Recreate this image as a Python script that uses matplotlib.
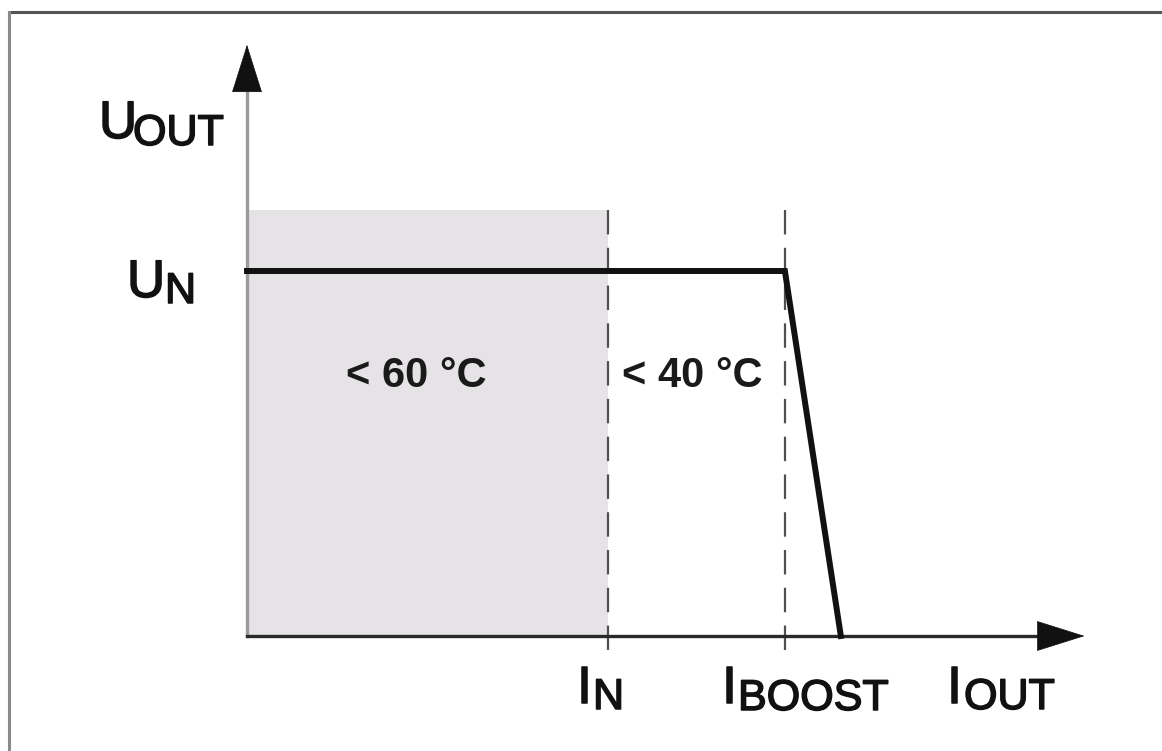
import matplotlib
matplotlib.use("Agg")
import matplotlib.pyplot as plt
import matplotlib.patheffects as pe

# ---- data (normalised units) ----
i_n = 1.0          # nominal current
i_boost = 1.49     # boost current
i_zero = 1.645     # current at which output voltage reaches zero
u_n = 1.0          # nominal voltage
shade_top = 1.167  # top of shaded (< 60 °C) region
curve_x = [0.0, i_boost, i_zero]
curve_y = [u_n, u_n, 0.0]
x_axis_end = 2.32
y_axis_end = 1.62
temp_labels = ["< 60 °C", "< 40 °C"]
axis_labels = [("U", "OUT"), ("U", "N"), ("I", "N"), ("I", "BOOST"), ("I", "OUT")]

W, H = 1162, 751
fig = plt.figure(figsize=(W / 100, H / 100), dpi=100)
ax = fig.add_axes([0, 0, 1, 1])
X0, Y0, SX, SY = 247, 636, 361, 365
ax.set_xlim(-X0 / SX, (W - X0) / SX)
ax.set_ylim((Y0 - H) / SY, Y0 / SY)
ax.axis("off")

def P(px, py):
    return ((px - X0) / SX, (Y0 - py) / SY)

FONT = "Liberation Sans"
thick = [pe.withStroke(linewidth=1.1, foreground="#111111")]

# figure border (top and left)
fig.add_artist(plt.Line2D([9 / W, 1], [1 - 12 / H, 1 - 12 / H], transform=fig.transFigure,
                          color="#555555", lw=2.2))
fig.add_artist(plt.Line2D([9 / W, 9 / W], [0, 1 - 12 / H], transform=fig.transFigure,
                          color="#8a8a8a", lw=2.2))

# shaded region
ax.fill_between([0, i_n], 0, shade_top, color="#e6e3e6", lw=0, zorder=1)

# dashed lines (drawn top to bottom so the dash pattern starts at the top)
for xv in (i_n, i_boost):
    ax.plot([xv, xv], [shade_top, -0.07], color="#505050", lw=1.6,
            dashes=(11, 6), zorder=2)

# axes lines
hx = 46 / SX
hy = 46 / SY
ax.plot([0, 0], [0, y_axis_end - hy + 0.01], color="#9a9a9a", lw=2.4, zorder=3)
ax.plot([0, x_axis_end - hx + 0.01], [0, 0], color="#2a2a2a", lw=2.4, zorder=3)
arrow_style = "-|>,head_length=1.65,head_width=0.52"
ax.annotate("", xy=(0, y_axis_end), xytext=(0, y_axis_end - hy),
            arrowprops=dict(arrowstyle=arrow_style, mutation_scale=20,
                            color="#111111", lw=0.5, shrinkA=0, shrinkB=0), zorder=4)
ax.annotate("", xy=(x_axis_end, 0), xytext=(x_axis_end - hx, 0),
            arrowprops=dict(arrowstyle=arrow_style, mutation_scale=20,
                            color="#111111", lw=0.5, shrinkA=0, shrinkB=0), zorder=4)

# characteristic curve
ax.plot(curve_x, curve_y, color="#111111", lw=4.3, solid_joinstyle="miter", zorder=5)

# temperature labels
ax.text(*P(416, 376), temp_labels[0], ha="center", va="center", fontsize=30,
        fontweight="bold", family=FONT, color="#1a1a1a", zorder=6)
ax.text(*P(692, 376), temp_labels[1], ha="center", va="center", fontsize=30,
        fontweight="bold", family=FONT, color="#1a1a1a", zorder=6)

# axis labels with subscripts: (main left, main baseline, sub left, sub baseline)
label_pos = [
    (99, 138, 133, 145),
    (127, 297, 165, 303),
    (577, 703, 593, 709),
    (722, 703, 738, 710),
    (947, 703, 964, 709),
]
for (main, sub), (mx, my, sx, sy) in zip(axis_labels, label_pos):
    ax.text(*P(mx, my), main, ha="left", va="baseline", fontsize=38,
            family=FONT, color="#111111", path_effects=thick)
    ax.text(*P(sx, sy), sub, ha="left", va="baseline", fontsize=31,
            family=FONT, color="#111111", path_effects=thick)

fig.savefig("out.png", dpi=100, facecolor="white")
